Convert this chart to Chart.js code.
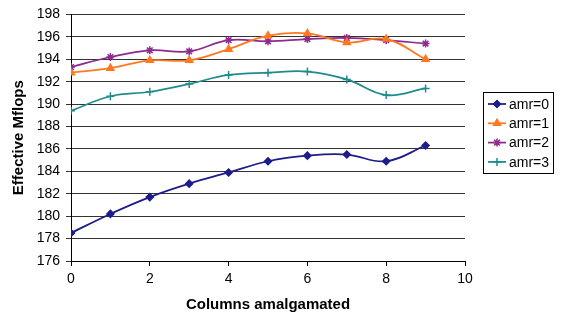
<!DOCTYPE html>
<html>
<head>
<meta charset="utf-8">
<script src="https://cdn.jsdelivr.net/npm/chart.js@4"></script>
<style>
  html, body { margin: 0; padding: 0; background: #fff; }
  #wrap { position: relative; width: 568px; height: 322px; }
</style>
</head>
<body>
<div id="wrap"><canvas id="chart" width="568" height="322"></canvas></div>
<script>
// Dados
const columns = [0, 1, 2, 3, 4, 5, 6, 7, 8, 9];
const amr0 = [178.5, 180.2, 181.7, 182.9, 183.9, 184.9, 185.4, 185.5, 184.9, 186.3];
const amr1 = [192.8, 193.2, 193.9, 193.9, 194.9, 196.1, 196.3, 195.5, 195.8, 194.0];
const amr2 = [193.3, 194.2, 194.8, 194.7, 195.7, 195.6, 195.8, 195.9, 195.7, 195.4];
const amr3 = [189.4, 190.7, 191.1, 191.8, 192.6, 192.8, 192.9, 192.2, 190.8, 191.4];
const seriesNames = ['amr=0', 'amr=1', 'amr=2', 'amr=3'];

document.addEventListener('DOMContentLoaded', function() {
    Chart.defaults.font.family = "'Liberation Sans', Arial, sans-serif";
    Chart.defaults.color = '#000';

    const styles = [
        { color: '#1c1c8a', point: 'rectRot', radius: 3.5 },
        { color: '#ff7820', point: 'triangle', radius: 4 },
        { color: '#8e2a8e', point: 'star', radius: 4 },
        { color: '#1f8c8c', point: 'cross', radius: 4 }
    ];
    const values = [amr0, amr1, amr2, amr3];

    const datasets = values.map((vals, i) => ({
        label: seriesNames[i],
        data: vals.map((v, j) => ({ x: columns[j], y: v })),
        borderColor: styles[i].color,
        backgroundColor: styles[i].color,
        pointStyle: styles[i].point,
        pointRadius: styles[i].radius,
        pointBorderWidth: 1.5,
        borderWidth: 1.75,
        tension: 0.4,
        fill: false
    }));

    // Legenda com moldura desenhada à mão
    const boxLegend = {
        id: 'boxLegend',
        afterDraw(chart) {
            const ctx = chart.ctx;
            const left = 483, top = 92, w = 70, h = 81;
            ctx.save();
            ctx.strokeStyle = '#000';
            ctx.lineWidth = 1;
            ctx.strokeRect(left + 0.5, top + 0.5, w, h);
            ctx.font = "14px 'Liberation Sans', Arial, sans-serif";
            ctx.textBaseline = 'middle';
            chart.data.datasets.forEach((ds, i) => {
                const y = top + 12 + i * 19.3;
                ctx.strokeStyle = ds.borderColor;
                ctx.lineWidth = 1.75;
                ctx.beginPath();
                ctx.moveTo(488, y);
                ctx.lineTo(506, y);
                ctx.stroke();
                ctx.fillStyle = ds.borderColor;
                ctx.lineWidth = 1.5;
                Chart.helpers.drawPoint(ctx, { pointStyle: ds.pointStyle, radius: ds.pointRadius, rotation: 0, borderWidth: 1.5 }, 497, y);
                ctx.fillStyle = '#000';
                ctx.fillText(ds.label, 509, y + 1);
            });
            ctx.restore();
        }
    };

    new Chart(document.getElementById('chart'), {
        type: 'line',
        data: { datasets },
        options: {
            responsive: false,
            animation: false,
            layout: { padding: { top: 5, right: 103, left: 0, bottom: 0 } },
            plugins: { legend: { display: false }, tooltip: { enabled: false } },
            scales: {
                x: {
                    type: 'linear',
                    min: 0, max: 10,
                    ticks: { stepSize: 2, font: { size: 14 }, padding: 5 },
                    grid: { drawOnChartArea: false, drawTicks: true, tickLength: 5, color: '#000' },
                    border: { color: '#000', width: 1 },
                    title: { display: true, text: 'Columns amalgamated', font: { size: 15, weight: 'bold' }, padding: { top: 4, bottom: 8 } },
                    afterFit(scale) { scale.height = 61; }
                },
                y: {
                    min: 176, max: 198,
                    ticks: { stepSize: 2, font: { size: 14 }, padding: 6 },
                    grid: { color: '#333', tickLength: 5 },
                    border: { color: '#000', width: 1 },
                    title: { display: true, text: 'Effective Mflops', font: { size: 15, weight: 'bold' }, padding: { top: 10, bottom: 0 } },
                    afterFit(scale) { scale.width = 71; }
                }
            }
        },
        plugins: [boxLegend]
    });
});
</script>
</body>
</html>
